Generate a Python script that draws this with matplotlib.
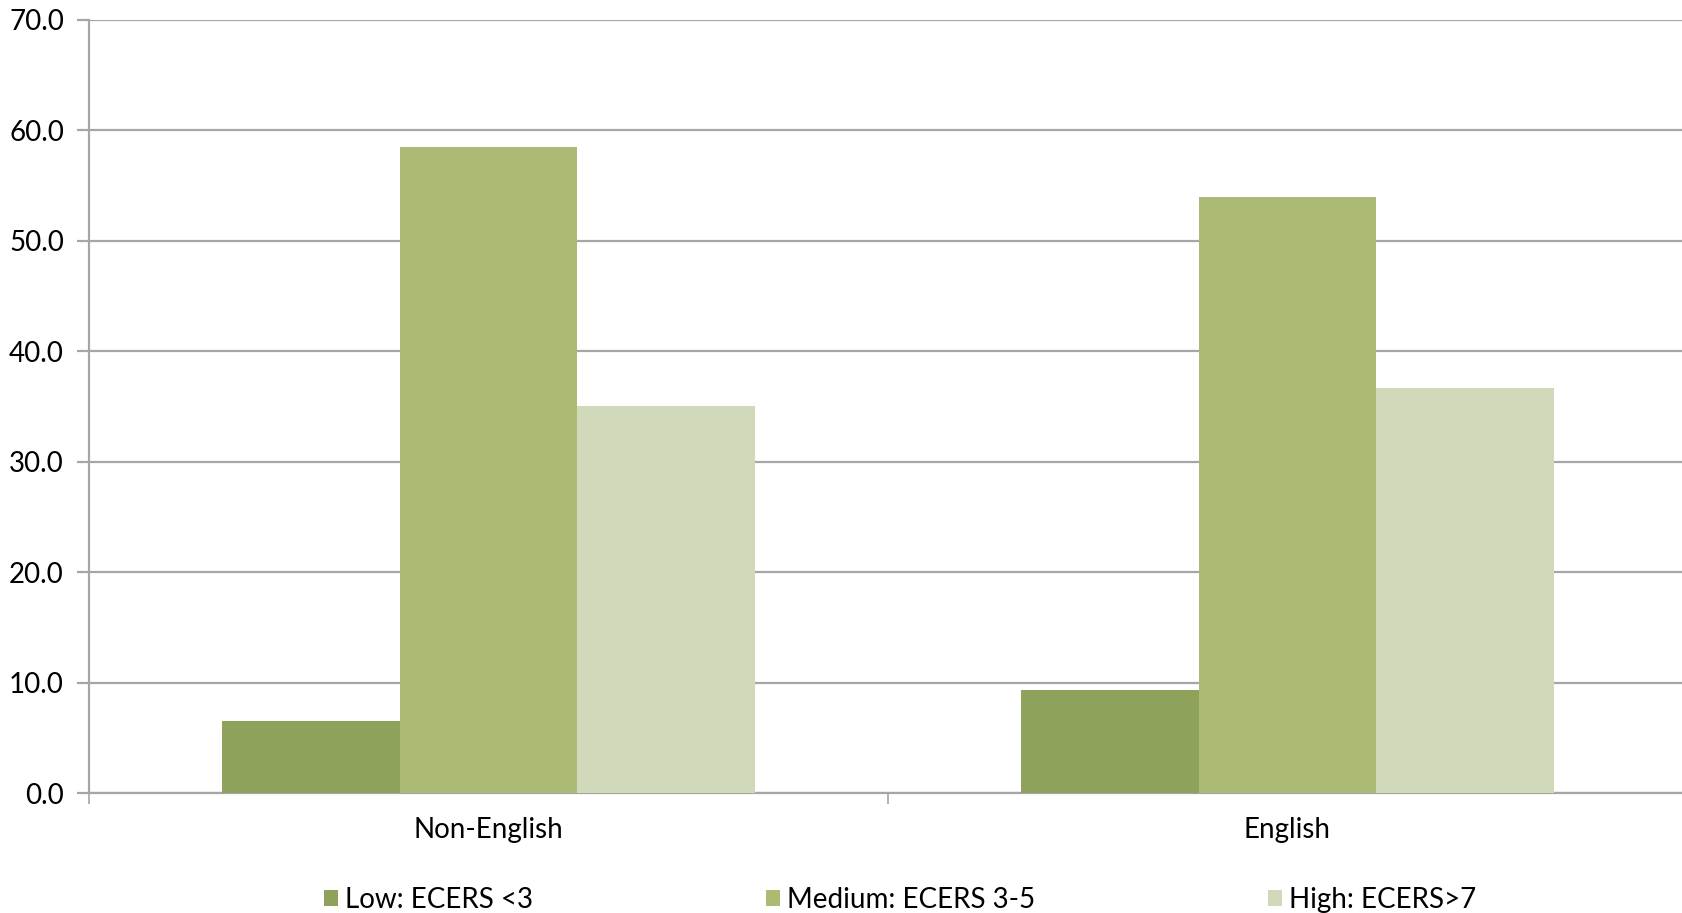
import numpy as np
import matplotlib
matplotlib.use('Agg')
import matplotlib.pyplot as plt

categories = ['Non-English', 'English']
series_names = ['Low: ECERS <3', 'Medium: ECERS 3-5', 'High: ECERS>7']
low = [6.5, 9.3]
medium = [58.5, 54.0]
high = [35.0, 36.7]
colors = ['#8FA25B', '#ABBB73', '#D0D9BA']

plt.rcParams['font.family'] = ['Lato', 'DejaVu Sans']

fig = plt.figure(figsize=(16.82, 9.13), dpi=100)
ax = fig.add_axes([89 / 1682, 1 - 793 / 913, 1598 / 1682, (793 - 20) / 913])

x = np.arange(len(categories))
w = 0.222
for i, vals in enumerate([low, medium, high]):
    ax.bar(x + (i - 1) * w, vals, width=w, color=colors[i], label=series_names[i], zorder=3)

ax.set_xlim(-0.5, 1.5)
ax.set_ylim(0, 70)
ax.set_yticks(np.arange(0, 71, 10))
ax.set_yticklabels(['%.1f' % v for v in np.arange(0, 71, 10)], fontsize=20)
ax.yaxis.grid(True, color='#A6A6A6', linewidth=1.6, zorder=0)

ax.set_xticks([-0.5, 0.5, 1.5])
ax.set_xticklabels([])
ax.set_xticks(x, minor=True)
ax.set_xticklabels(categories, minor=True, fontsize=20)
ax.tick_params(axis='x', which='minor', length=0, pad=17)
ax.tick_params(axis='x', which='major', length=8, color='#A6A6A6', width=1.2)
ax.tick_params(axis='y', length=9, color='#A6A6A6', width=1.6, pad=9)

for s in ['top', 'right']:
    ax.spines[s].set_visible(False)
ax.spines['left'].set_color('#A6A6A6')
ax.spines['left'].set_linewidth(1.6)
ax.spines['bottom'].set_color('#A6A6A6')
ax.spines['bottom'].set_linewidth(1.6)

fig.legend(loc='center', bbox_to_anchor=(900 / 1682, 1 - 900 / 913),
           ncol=3, frameon=False, fontsize=20, handlelength=0.5, handleheight=0.5,
           handletextpad=0.25, columnspacing=8.4)

fig.savefig('out.png', dpi=100)
